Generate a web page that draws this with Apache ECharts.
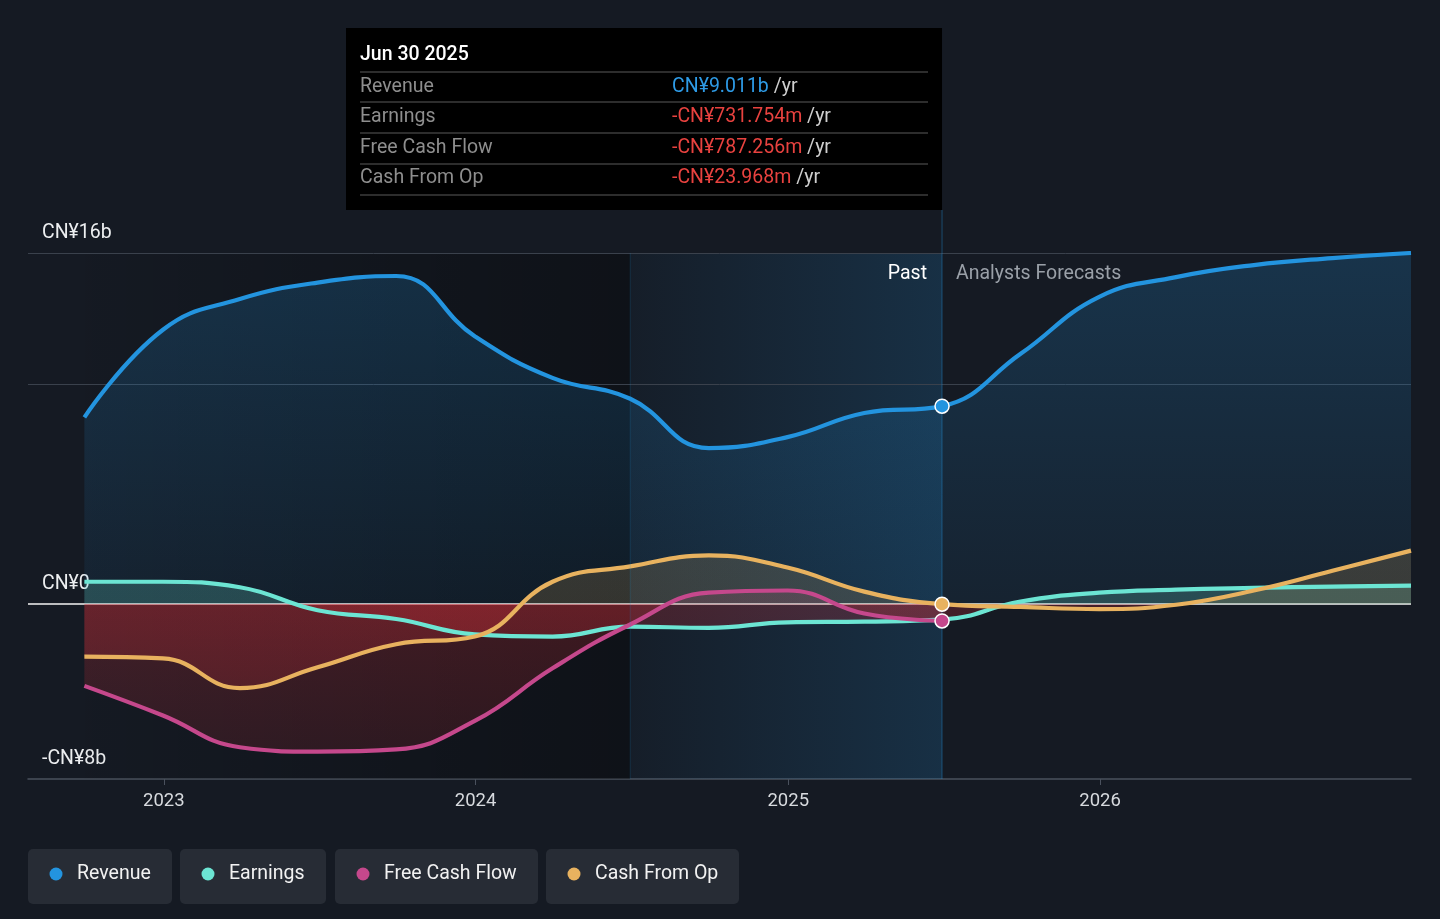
<!DOCTYPE html>
<html><head><meta charset="utf-8">
<script src="https://cdn.jsdelivr.net/npm/echarts@6/dist/echarts.min.js"></script>
<style>html,body{margin:0;padding:0;background:#151a23;}#c{width:1440px;height:919px;}</style>
</head><body><div id="c"></div>
<script>
// ---- data (values in CN¥ billions) ----
const dates = ['2022-09-30','2022-12-31','2023-03-31','2023-06-30','2023-09-30','2023-12-31','2024-03-31','2024-06-30','2024-09-30','2024-12-31','2025-03-31','2025-06-30','2025-09-30','2025-12-31','2026-03-31','2026-06-30','2026-09-30','2026-12-31'];
const revenue = [8.5,12.5,13.9,14.65,14.95,12.2,10.3,9.35,7.1,7.6,8.7,9.011,11.4,14.0,14.9,15.45,15.77,16.0];
const earnings = [1.0,1.0,0.75,-0.3,-0.7,-1.4,-1.5,-1.05,-1.1,-0.85,-0.82,-0.731754,0.1,0.5,0.64,0.72,0.78,0.82];
const freeCashFlow = [-3.75,-5.1,-6.55,-6.75,-6.65,-5.35,-2.95,-0.95,0.5,0.6,-0.45,-0.787256,null,null,null,null,null,null];
const cashFromOp = [-2.42,-2.5,-3.85,-2.9,-1.85,-1.5,1.0,1.7,2.2,1.65,0.55,-0.023968,-0.15,-0.25,-0.05,0.6,1.5,2.42];
const seriesNames = ['Revenue','Earnings','Free Cash Flow','Cash From Op'];
const xTickYears = [2023,2024,2025,2026];
const yMin = -8, yMax = 16, yStep = 8;
const yLabelValues = [-8,0,16];
const yGridValues = [16,10];
const xMinDate = '2022-07-26', xMaxDate = '2026-12-31';
const lastPastDate = '2025-06-30';
const oneYearAgoDate = '2024-06-30';
const tooltipTitle = 'Jun 30 2025';
const pastLabel = 'Past', forecastLabel = 'Analysts Forecasts';

// ---- styles ----
const FONT = 'Roboto';
const FS = 19.5;
const palette = { Revenue:[35,148,223], Earnings:[108,229,211], 'Free Cash Flow':[197,72,140], 'Cash From Op':[232,178,95] };
const RED = [215,48,58];
const rgba = (c,a)=>`rgba(${c[0]},${c[1]},${c[2]},${a})`;
const hex = c=>rgba(c,1);
const valuesByName = { Revenue:revenue, Earnings:earnings, 'Free Cash Flow':freeCashFlow, 'Cash From Op':cashFromOp };
const lastIdx = dates.indexOf(lastPastDate);

function ts(s){ const p=s.split('-').map(Number); return new Date(p[0],p[1]-1,p[2]).getTime(); }
function pairs(vals){ const out=[]; vals.forEach((v,i)=>{ if(v!=null) out.push([ts(dates[i]),v]); }); return out; }
function fmt(v){ const a=Math.abs(v); const s = a>=1 ? a.toFixed(3)+'b' : (a*1000).toFixed(3)+'m'; return (v<0?'-':'')+'CN¥'+s; }
function yearTs(y){ return new Date(y,0,1).getTime(); }

const chart = echarts.init(document.getElementById('c'), null, {renderer:'canvas'});

const series = seriesNames.map((name, si)=>{
  const c = palette[name];
  const s = {
    name, type:'line', data: pairs(valuesByName[name]), smooth:0.45,
    showSymbol:false, symbol:'none', z:2,
    lineStyle:{ color:hex(c), width:4.2 },
    itemStyle:{ color:hex(c) },
    areaStyle:{ color: rgba(c,0.2) },
    markPoint:{ symbol:'circle', symbolSize:14, silent:true, z:6,
      itemStyle:{ color:hex(c), borderColor:'#ffffff', borderWidth:1.5 }, label:{show:false},
      data: name==='Earnings' ? [] : [{ coord:[ts(lastPastDate), valuesByName[name][lastIdx]] }] }
  };
  if (si===0) {
    s.markArea = { silent:true, z:1, data:[
      [{ xAxis: ts(dates[0]), itemStyle:{ color: new echarts.graphic.LinearGradient(0,0,1,0,[{offset:0,color:'rgba(0,0,0,0.02)'},{offset:1,color:'rgba(0,0,0,0.32)'}]) } }, { xAxis: ts(oneYearAgoDate) }],
      [{ xAxis: ts(oneYearAgoDate), itemStyle:{ color: new echarts.graphic.LinearGradient(0,0,1,0,[{offset:0,color:rgba(palette.Revenue,0.03)},{offset:1,color:rgba(palette.Revenue,0.18)}]) } }, { xAxis: ts(lastPastDate) }]
    ]};
    s.markLine = { silent:true, z:1, symbol:'none', label:{show:false},
      data: yGridValues.map(v=>({ yAxis:v, lineStyle:{ color:'#3a414c', width:1, type:'solid' } }))
        .concat([{ yAxis:0, lineStyle:{ color:'#f4f4f4', width:1.5, type:'solid' } }]) };
  }
  return s;
});

const option = {
  animation:false,
  backgroundColor:'#151a23',
  textStyle:{ fontFamily:FONT },
  grid:{ left:28, right:29, top:253, bottom:140 },
  xAxis:{ type:'value', min:ts(xMinDate), max:ts(xMaxDate),
    axisLine:{ onZero:false, lineStyle:{ color:'#4a515d', width:1.5 } },
    axisTick:{ show:true, length:6, lineStyle:{ color:'#4a515d' }, customValues: xTickYears.map(yearTs) },
    axisLabel:{ color:'#d7dade', fontSize:18.5, margin:13, fontFamily:FONT, customValues: xTickYears.map(yearTs),
      formatter: v => String(new Date(v).getFullYear()) },
    splitLine:{ show:false } },
  yAxis:{ type:'value', min:yMin, max:yMax, interval:yStep,
    axisLine:{show:false}, axisTick:{show:false},
    axisLabel:{ inside:true, margin:14, color:'#eceef0', fontSize:FS, fontFamily:FONT, verticalAlign:'bottom', padding:[0,0,10,0],
      customValues: yLabelValues,
      formatter: v => (v<0?'-':'') + 'CN¥' + Math.abs(v) + (v===0 ? '' : 'b') },
    splitLine:{ show:false } },
  series
};
chart.setOption(option);

// ---- layout-dependent styling ----
const yTop = chart.convertToPixel({yAxisIndex:0}, yMax);
const yBot = chart.convertToPixel({yAxisIndex:0}, yMin);
const y0 = chart.convertToPixel({yAxisIndex:0}, 0);
const zf = (y0 - yTop)/(yBot - yTop);
const xLast = chart.convertToPixel({xAxisIndex:0}, ts(lastPastDate));
const xYear = chart.convertToPixel({xAxisIndex:0}, ts(oneYearAgoDate));

const posAlpha = { Revenue:[0.3,0.1], Earnings:[0.3,0.3], 'Free Cash Flow':[0.25,0.25], 'Cash From Op':[0.26,0.24] };
function areaGrad(name){
  const c = palette[name], a = posAlpha[name];
  return new echarts.graphic.LinearGradient(0, yTop, 0, yBot, [
    {offset:0, color:rgba(c,a[0])}, {offset:zf, color:rgba(c,a[1])},
    {offset:zf, color:rgba(RED,0.34)}, {offset:1, color:rgba(RED,0.18)} ], true);
}

const graphics = [];
graphics.push({ type:'line', z:3, silent:true, shape:{x1:xYear,y1:yTop,x2:xYear,y2:yBot}, style:{stroke:rgba(palette.Revenue,0.18), lineWidth:1} });
const tipW = 596, tipH = 182, tipY = 28, tipX = xLast - tipW;
graphics.push({ type:'line', z:3, silent:true, shape:{x1:xLast,y1:tipY+tipH,x2:xLast,y2:yBot}, style:{stroke:rgba(palette.Revenue,0.4), lineWidth:1} });
graphics.push({ type:'text', z:4, x:xLast-15, y:yTop+21, style:{ text:pastLabel, fill:'#ffffff', font:FS+'px '+FONT, align:'right', verticalAlign:'middle' } });
graphics.push({ type:'text', z:4, x:xLast+14, y:yTop+21, style:{ text:forecastLabel, fill:'#9aa0a8', font:FS+'px '+FONT, align:'left', verticalAlign:'middle' } });

graphics.push({ type:'rect', z:10, shape:{x:tipX,y:tipY,width:tipW,height:tipH}, style:{fill:'#000000'} });
graphics.push({ type:'text', z:11, x:tipX+14, y:tipY+27, style:{ text:tooltipTitle, fill:'#ffffff', font:'500 '+FS+'px '+FONT, verticalAlign:'middle' } });
const sepOffsets = [44,74,105,136,167];
sepOffsets.forEach(o=>graphics.push({ type:'line', z:11, shape:{x1:tipX+14,y1:tipY+o,x2:tipX+582,y2:tipY+o}, style:{stroke:'#3c3c3c', lineWidth:1.5} }));
const rowOffsets = [59,89,120,150];
seriesNames.forEach((name,i)=>{
  const v = valuesByName[name][lastIdx];
  graphics.push({ type:'text', z:11, x:tipX+14, y:tipY+rowOffsets[i], style:{ text:name, fill:'#8e8e8e', font:FS+'px '+FONT, verticalAlign:'middle' } });
  graphics.push({ type:'text', z:11, x:tipX+326, y:tipY+rowOffsets[i], style:{
    text:'{v|'+fmt(v)+'} {u|/yr}', verticalAlign:'middle', font:FS+'px '+FONT,
    rich:{ v:{ fill: v<0 ? '#e8423f' : '#2e9be6', font:FS+'px '+FONT }, u:{ fill:'#cfcfcf', font:FS+'px '+FONT } } } });
});

const ctx = document.createElement('canvas').getContext('2d');
ctx.font = FS+'px '+FONT;
let lx = 28;
const gaps = [8,9,8];
seriesNames.forEach((name,i)=>{
  const tw = ctx.measureText(name).width;
  const w = Math.round(49 + tw + 21);
  graphics.push({ type:'rect', z:5, shape:{x:lx,y:849,width:w,height:55,r:5}, style:{fill:'#272c35'} });
  graphics.push({ type:'circle', z:6, shape:{cx:lx+28,cy:874,r:6.5}, style:{fill:hex(palette[name])} });
  graphics.push({ type:'text', z:6, x:lx+49, y:874, style:{ text:name, fill:'#f2f2f2', font:FS+'px '+FONT, verticalAlign:'middle' } });
  lx += w + (gaps[i]||8);
});

chart.setOption({
  series: seriesNames.map(name=>({ name, areaStyle:{ color: areaGrad(name) } })),
  graphic: graphics
});
</script></body></html>
